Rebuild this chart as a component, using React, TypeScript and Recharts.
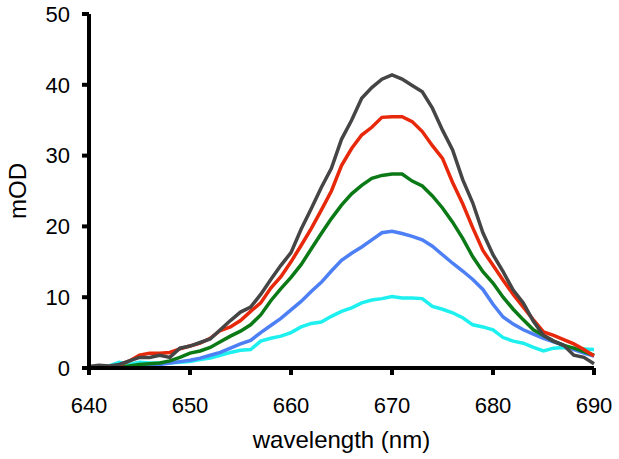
import { LineChart, Line, XAxis, YAxis } from 'recharts';

// wavelength grid (nm), 1 nm steps
const wavelengths = [
  640, 641, 642, 643, 644, 645, 646, 647, 648, 649,
  650, 651, 652, 653, 654, 655, 656, 657, 658, 659,
  660, 661, 662, 663, 664, 665, 666, 667, 668, 669,
  670, 671, 672, 673, 674, 675, 676, 677, 678, 679,
  680, 681, 682, 683, 684, 685, 686, 687, 688, 689, 690,
];

// mOD values
const grayOD = [
  0.2, 0.4, 0.3, 0.5, 1.0, 1.5, 1.5, 1.8, 1.5, 2.8,
  3.1, 3.6, 4.1, 5.4, 6.7, 7.9, 8.6, 10.4, 12.5, 14.5,
  16.3, 19.6, 22.5, 25.5, 28.2, 32.3, 35.0, 38.1, 39.6, 40.8,
  41.4, 40.8, 39.9, 39.0, 36.7, 33.6, 30.8, 26.6, 23.3, 19.1,
  16.0, 13.6, 11.0, 9.2, 6.6, 4.6, 3.8, 3.2, 1.8, 1.5, 0.6,
];
const redOD = [
  0.0, 0.1, 0.2, 0.4, 1.0, 1.8, 2.1, 2.1, 2.2, 2.7,
  3.1, 3.5, 4.2, 5.3, 5.8, 6.7, 8.0, 9.2, 11.3, 12.9,
  15.0, 17.3, 19.7, 22.3, 25.0, 28.6, 31.0, 32.9, 34.0, 35.4,
  35.5, 35.5, 34.8, 33.4, 31.4, 29.6, 26.2, 23.2, 19.8, 16.6,
  14.5, 12.4, 10.4, 8.6, 6.8, 5.1, 4.6, 4.0, 3.4, 2.6, 1.7,
];
const greenOD = [
  0, 0, 0, 0.1, 0.3, 0.5, 0.6, 0.7, 1.0, 1.5,
  2.1, 2.4, 2.9, 3.7, 4.5, 5.2, 6.1, 7.5, 9.5, 11.2,
  12.8, 14.6, 16.8, 19.0, 21.1, 23.0, 24.6, 25.8, 26.8, 27.2,
  27.4, 27.4, 26.4, 25.7, 24.3, 22.6, 20.6, 18.3, 15.7, 13.6,
  12.0, 10.0, 8.3, 6.8, 5.4, 4.6, 3.8, 3.2, 2.8, 2.3, 1.8,
];
const blueOD = [
  0, 0, 0, 0, 0.1, 0.2, 0.3, 0.5, 0.7, 0.9,
  1.1, 1.4, 1.8, 2.2, 2.8, 3.4, 3.9, 5.0, 6.0, 7.0,
  8.2, 9.4, 10.8, 12.1, 13.7, 15.2, 16.2, 17.1, 18.1, 19.1,
  19.3, 19.0, 18.6, 18.1, 17.2, 16.0, 14.8, 13.7, 12.5, 11.1,
  9.0, 7.2, 6.2, 5.4, 4.8, 4.2, 3.7, 3.2, 2.6, 2.1, 1.7,
];
const cyanOD = [
  0, 0, 0.3, 0.8, 0.5, 0.8, 0.7, 0.7, 0.7, 0.8,
  0.9, 1.2, 1.4, 1.8, 2.2, 2.5, 2.6, 3.8, 4.2, 4.5,
  5.0, 5.8, 6.3, 6.5, 7.3, 8.0, 8.5, 9.2, 9.6, 9.8,
  10.1, 9.9, 9.9, 9.8, 8.7, 8.3, 7.8, 7.1, 6.1, 5.8,
  5.4, 4.3, 3.8, 3.5, 2.9, 2.4, 2.8, 2.9, 2.8, 2.7, 2.6,
];
const orangeOD = wavelengths.map(() => 0);

const xTicks = [640, 650, 660, 670, 680, 690];
const yTicks = [0, 10, 20, 30, 40, 50];

const data = wavelengths.map((w, i) => ({
  w,
  gray: grayOD[i],
  red: redOD[i],
  green: greenOD[i],
  blue: blueOD[i],
  cyan: cyanOD[i],
  orange: orangeOD[i],
}));

const font = 'Arial, "Liberation Sans", Helvetica, sans-serif';
const axisStyle = { stroke: '#000', strokeWidth: 4 };
const lineW = 3.5;

export default function App() {
  return (
    <div style={{ position: 'absolute', left: 0, top: 0, background: '#fff' }}>
      <LineChart width={619} height={459} data={data} margin={{ top: 14, right: 25, bottom: 61, left: 29 }}>
        <XAxis
          dataKey="w"
          type="number"
          domain={[640, 690]}
          ticks={xTicks}
          axisLine={axisStyle}
          tickLine={axisStyle}
          tickSize={7}
          tickMargin={22}
          height={30}
          tick={{ fill: '#000', fontSize: 22, fontFamily: font }}
          label={{ value: 'wavelength (nm)', position: 'bottom', offset: 33, fill: '#000', fontSize: 24, fontFamily: font }}
        />
        <YAxis
          domain={[0, 50]}
          ticks={yTicks}
          axisLine={axisStyle}
          tickLine={axisStyle}
          tickSize={7}
          tickMargin={12}
          width={60}
          tick={{ fill: '#000', fontSize: 22, fontFamily: font }}
          label={{ value: 'mOD', angle: -90, position: 'insideLeft', offset: -12, fill: '#000', fontSize: 24, fontFamily: font, style: { textAnchor: 'middle' } }}
        />
        <Line dataKey="cyan" stroke="#1ef0f0" strokeWidth={lineW} dot={false} type="linear" isAnimationActive={false} />
        <Line dataKey="blue" stroke="#4d7ff5" strokeWidth={lineW} dot={false} type="linear" isAnimationActive={false} />
        <Line dataKey="green" stroke="#0b7a16" strokeWidth={lineW} dot={false} type="linear" isAnimationActive={false} />
        <Line dataKey="red" stroke="#e8280a" strokeWidth={lineW} dot={false} type="linear" isAnimationActive={false} />
        <Line dataKey="gray" stroke="#454545" strokeWidth={lineW} dot={false} type="linear" isAnimationActive={false} />
        <Line dataKey="orange" stroke="#f07800" strokeWidth={lineW} dot={false} type="linear" isAnimationActive={false} />
      </LineChart>
    </div>
  );
}
